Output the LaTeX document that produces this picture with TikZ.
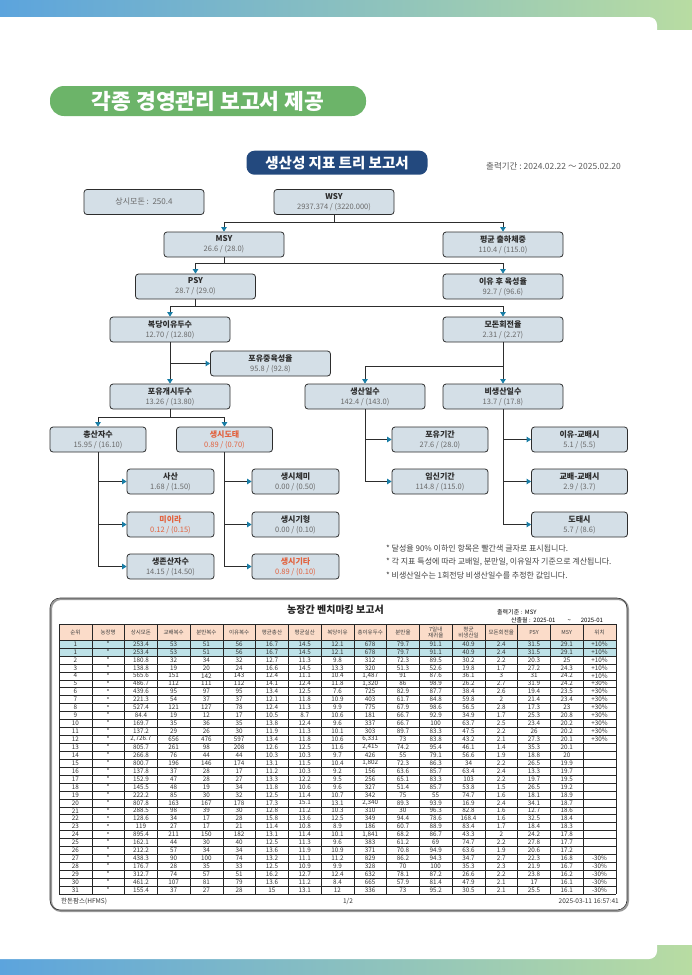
\documentclass[tikz,border=0pt]{standalone}
\usepackage{fontspec}
\setmainfont{Noto Sans CJK KR}
\usetikzlibrary{arrows.meta}

\definecolor{bandblue}{RGB}{92,164,221}
\definecolor{bandgreen}{RGB}{184,220,162}
\definecolor{pillgreen}{RGB}{108,180,105}
\definecolor{pillblue}{RGB}{35,73,126}
\definecolor{boxfill}{RGB}{212,223,231}
\definecolor{boxline}{RGB}{45,45,45}
\definecolor{tipblue}{RGB}{25,125,165}
\definecolor{valgray}{RGB}{105,105,105}
\definecolor{warnred}{RGB}{226,98,62}
\definecolor{headfill}{RGB}{251,220,201}
\definecolor{hilite}{RGB}{190,226,232}

\newcommand{\kname}[1]{{\bfseries #1}}
\newcommand{\kval}[1]{{\fontsize{7.5}{10}\selectfont\color{valgray}#1}}
\newcommand{\kvalr}[1]{{\fontsize{7.5}{10}\selectfont #1}}

\begin{document}
\begin{tikzpicture}[x=1pt, y=-1pt,
  kpi/.style={draw=boxline, line width=0.8pt, fill=boxfill, rounded corners=3pt,
    minimum width=120pt, minimum height=25pt, inner sep=1pt, align=center,
    font=\fontsize{8}{10}\selectfont, text=boxline},
  kpimid/.style={kpi, minimum width=96pt},
  kpismall/.style={kpi, minimum width=87pt},
  warn/.style={text=warnred},
  link/.style={draw=boxline, line width=0.8pt,
    -{Triangle[width=5.5pt,length=4.5pt,color=tipblue]}},
  tabline/.style={draw=black!85, line width=0.4pt},
  headtxt/.style={font=\fontsize{5.5}{6}\selectfont, text=black!75, align=center, inner sep=0pt},
  celltxt/.style={font=\fontsize{6.3}{7}\selectfont, text=black!80, inner sep=0pt}]
  \useasboundingbox (0,0) rectangle (692,975);

  % Page bands
  \shade[left color=bandblue, right color=bandgreen] (0,0) rectangle (692,29);
  \fill[white, rounded corners=8pt] (-20,17) rectangle (657,60);
  \shade[left color=bandblue, right color=bandgreen] (0,945) rectangle (692,975);
  \fill[white, rounded corners=8pt] (-20,915) rectangle (657,959);

  % Titles
  \node[fill=pillgreen, rounded corners=14pt, minimum width=316pt, minimum height=30pt,
    text=white, font=\fontsize{21.5}{24}\selectfont\bfseries] (ttl) at (208,101) {각종 경영관리 보고서 제공};
  \node[fill=pillblue, rounded corners=8pt, minimum width=181pt, minimum height=24pt,
    text=white, font=\fontsize{14.5}{16}\selectfont\bfseries] (rpt) at (337,162.7) {생산성 지표 트리 보고서};
  \node[anchor=west, inner sep=0pt, text=black!65, font=\fontsize{8.5}{10}\selectfont] (period)
    at (486,166) {출력기간 :\ 2024.02.22 ～ 2025.02.20};

  % Productivity tree
  \node[kpi, text=valgray] (sows) at (144,202) {상시모돈 :\ \ 250.4};
  \node[kpi] (wsy) at (334,202) {\kname{WSY}\\\kval{2937.374 / (3220.000)}};
  \node[kpi] (msy) at (224,244.5) {\kname{MSY}\\\kval{26.6 / (28.0)}};
  \node[kpi] (wt) at (503,244.5) {\kname{평균 출하체중}\\\kval{110.4 / (115.0)}};
  \node[kpi] (psy) at (195.5,286.5) {\kname{PSY}\\\kval{28.7 / (29.0)}};
  \node[kpi] (grow) at (503,286.5) {\kname{이유 후 육성율}\\\kval{92.7 / (96.6)}};
  \node[kpi] (wean) at (170,329.5) {\kname{복당이유두수}\\\kval{12.70 / (12.80)}};
  \node[kpi] (turn) at (503,329.5) {\kname{모돈회전율}\\\kval{2.31 / (2.27)}};
  \node[kpi] (survive) at (270.5,363.5) {\kname{포유중육성율}\\\kval{95.8 / (92.8)}};
  \node[kpi] (start) at (170,396.5) {\kname{포유개시두수}\\\kval{13.26 / (13.80)}};
  \node[kpi] (prod) at (365,396.5) {\kname{생산일수}\\\kval{142.4 / (143.0)}};
  \node[kpi] (nonprod) at (503,396.5) {\kname{비생산일수}\\\kval{13.7 / (17.8)}};
  \node[kpimid] (total) at (98,439.5) {\kname{총산자수}\\\kval{15.95 / (16.10)}};
  \node[kpimid, warn] (cull) at (224.5,439.5) {\kname{생시도태}\\\kvalr{0.89 / (0.70)}};
  \node[kpismall] (still) at (170.5,481.5) {\kname{사산}\\\kval{1.68 / (1.50)}};
  \node[kpismall, warn] (mummy) at (170.5,524.5) {\kname{미이라}\\\kvalr{0.12 / (0.15)}};
  \node[kpismall] (alive) at (170.5,566.5) {\kname{생존산자수}\\\kval{14.15 / (14.50)}};
  \node[kpismall] (weak) at (295.5,481.5) {\kname{생시체미}\\\kval{0.00 / (0.50)}};
  \node[kpismall] (deform) at (295.5,524.5) {\kname{생시기형}\\\kval{0.00 / (0.10)}};
  \node[kpismall, warn] (other) at (295.5,566.5) {\kname{생시기타}\\\kvalr{0.89 / (0.10)}};
  \node[kpimid] (lact) at (440,439.5) {\kname{포유기간}\\\kval{27.6 / (28.0)}};
  \node[kpimid] (gest) at (440,481.5) {\kname{임신기간}\\\kval{114.8 / (115.0)}};
  \node[kpimid] (wm) at (579.5,439.5) {\kname{이유-교배시}\\\kval{5.1 / (5.5)}};
  \node[kpimid] (mm) at (579.5,481.5) {\kname{교배-교배시}\\\kval{2.9 / (3.7)}};
  \node[kpimid] (cullday) at (579.5,524.5) {\kname{도태시}\\\kval{5.7 / (8.6)}};

  % Connectors
  \draw[link] (wsy.south) -- ++(0,7) -| (msy.north);
  \draw[link] (wsy.south) -- ++(0,7) -| (wt.north);
  \draw[link] (msy.south) -- ++(0,6) -| (psy.north);
  \draw[link] (msy.south) -- ++(0,6) -| (grow.north);
  \draw[link] (psy.south) -- ++(0,7) -| (wean.north);
  \draw[link] (psy.south) -- ++(0,7) -| (turn.north);
  \draw[link] (wean.south) -- (start.north);
  \draw[link] (wean.south |- survive.west) -- (survive.west);
  \draw[link] (turn.south) -- (nonprod.north);
  \draw[link] (turn.south) -- ++(0,23.5) -| (prod.north);
  \draw[link] (start.south) -- ++(0,8) -| (total.north);
  \draw[link] (start.south) -- ++(0,8) -| (cull.north);
  \foreach \k in {still,mummy,alive} \draw[link] (total.south) |- (\k.west);
  \foreach \k in {weak,deform,other} \draw[link] (cull.south) |- (\k.west);
  \foreach \k in {lact,gest} \draw[link] (prod.south) |- (\k.west);
  \foreach \k in {wm,mm,cullday} \draw[link] (nonprod.south) |- (\k.west);

  % Notes
  \foreach \t [count=\n] in {{* 달성율 90\% 이하인 항목은 빨간색 글자로 표시됩니다.},
      {* 각 지표 특성에 따라 교배일, 분만일, 이유일자 기준으로 계산됩니다.},
      {* 비생산일수는 1회전당 비생산일수를 추정한 값입니다.}}
    \node[anchor=west, inner sep=0pt, text=black!75, font=\fontsize{8}{10}\selectfont]
      (note\n) at (386,534.5+\n*13.5) {\t};

  % Benchmark table
  \draw[black!40, line width=2pt, rounded corners=10pt] (51,599) rectangle (628,911);
  \draw[black!80, line width=0.6pt, rounded corners=10pt] (50,598) rectangle (627,910);
  \node[font=\fontsize{10}{12}\selectfont\bfseries, text=black!85] (bench) at (335.5,610) {농장간 벤치마킹 보고서};
  \node[anchor=west, inner sep=0pt, font=\fontsize{6}{7}\selectfont] (crit) at (497,612) {출력기준 :\ \ MSY};
  \node[anchor=west, inner sep=0pt, font=\fontsize{6}{7}\selectfont] (month) at (511,620)
    {산출월 :\ \ 2025-01\hspace{12pt}\textasciitilde\hspace{10pt}2025-01};

  \fill[headfill] (59,624) rectangle (616,640);
  \fill[hilite] (59,640) rectangle (616,655.88);
  \foreach \i in {0,...,17} \draw[tabline] (59+\i*32.76,624) -- (59+\i*32.76,894.1);
  \draw[tabline] (59,624) -- (616,624);
  \foreach \r in {0,...,32} \draw[tabline] (59,640+\r*7.94) -- (616,640+\r*7.94);

  \foreach \h [count=\c] in {순위,농장명,상시모돈,교배복수,분만복수,이유복수,평균총산,평균실산,
      복당이유,총이유두수,분만율,{7일내\\재귀율},{평균\\비생산일},모돈회전율,PSY,MSY,위치}
    \node[headtxt] (h\c) at (59+\c*32.76-16.38,632) {\h};

  \foreach \row [count=\r] in {
    {1,*,253.4,53,51,56,16.7,14.5,12.1,678,79.7,91.1,40.9,2.4,31.5,29.1,+10\%},
    {1,*,253.4,53,51,56,16.7,14.5,12.1,678,79.7,91.1,40.9,2.4,31.5,29.1,+10\%},
    {2,*,180.8,32,34,32,12.7,11.3,9.8,312,72.3,89.5,30.2,2.2,20.3,25,+10\%},
    {3,*,138.8,19,20,24,16.6,14.5,13.3,320,51.3,52.6,19.8,1.7,27.2,24.3,+10\%},
    {4,*,565.6,151,142,143,12.4,11.1,10.4,{1,487},91,87.6,36.1,3,31,24.2,+10\%},
    {5,*,486.7,112,111,112,14.1,12.4,11.8,{1,320},86,98.9,26.2,2.7,31.9,24.2,+30\%},
    {6,*,439.6,95,97,95,13.4,12.5,7.6,725,82.9,87.7,38.4,2.6,19.4,23.5,+30\%},
    {7,*,221.3,54,37,37,12.1,11.8,10.9,403,61.7,84.8,59.8,2,21.4,23.4,+30\%},
    {8,*,527.4,121,127,78,12.4,11.3,9.9,775,67.9,98.6,56.5,2.8,17.3,23,+30\%},
    {9,*,84.4,19,12,17,10.5,8.7,10.6,181,66.7,92.9,34.9,1.7,25.3,20.8,+30\%},
    {10,*,169.7,35,36,35,13.8,12.4,9.6,337,66.7,100,63.7,2.5,23.4,20.2,+30\%},
    {11,*,137.2,29,26,30,11.9,11.3,10.1,303,89.7,83.3,47.5,2.2,26,20.2,+30\%},
    {12,*,{2,726.7},656,476,597,13.4,11.8,10.6,{6,331},73,83.8,43.2,2.1,27.3,20.1,+30\%},
    {13,*,805.7,261,98,208,12.6,12.5,11.6,{2,415},74.2,95.4,46.1,1.4,35.3,20.1},
    {14,*,266.8,76,44,44,10.3,10.3,9.7,426,55,79.1,56.6,1.9,18.8,20},
    {15,*,800.7,196,146,174,13.1,11.5,10.4,{1,802},72.3,86.3,34,2.2,26.5,19.9},
    {16,*,137.8,37,28,17,11.2,10.3,9.2,156,63.6,85.7,63.4,2.4,13.3,19.7},
    {17,*,152.9,47,28,27,13.3,12.2,9.5,256,65.1,83.3,103,2.2,19.7,19.5},
    {18,*,145.5,48,19,34,11.8,10.6,9.6,327,51.4,85.7,53.8,1.5,26.5,19.2},
    {19,*,222.2,85,30,32,12.5,11.4,10.7,342,75,55,74.7,1.6,18.1,18.9},
    {20,*,807.8,163,167,178,17.3,15.1,13.1,{2,340},89.3,93.9,16.9,2.4,34.1,18.7},
    {21,*,288.5,98,39,30,12.8,11.2,10.3,310,30,96.3,82.8,1.6,12.7,18.6},
    {22,*,128.6,34,17,28,15.8,13.6,12.5,349,94.4,78.6,168.4,1.6,32.5,18.4},
    {23,*,119,27,17,21,11.4,10.8,8.9,186,60.7,88.9,83.4,1.7,18.4,18.3},
    {24,*,895.4,211,150,182,13.1,11.4,10.1,{1,841},68.2,86.7,43.3,2,24.2,17.8},
    {25,*,162.1,44,30,40,12.5,11.3,9.6,383,61.2,69,74.7,2.2,27.8,17.7},
    {26,*,212.2,57,34,34,13.6,11.9,10.9,371,70.8,94.9,63.6,1.9,20.6,17.2},
    {27,*,438.3,90,100,74,13.2,11.1,11.2,829,86.2,94.3,34.7,2.7,22.3,16.8,-30\%},
    {28,*,176.7,28,35,33,12.5,10.9,9.9,328,70,100,35.3,2.3,21.9,16.7,-30\%},
    {29,*,312.7,74,57,51,16.2,12.7,12.4,632,78.1,87.2,26.6,2.2,23.8,16.2,-30\%},
    {30,*,461.2,107,81,79,13.6,11.2,8.4,665,57.9,81.4,47.9,2.1,17,16.1,-30\%},
    {31,*,155.4,37,27,28,15,13.1,12,336,73,95.2,30.5,2.1,25.5,16.1,-30\%}}
    \foreach \v [count=\c] in \row
      \node[celltxt] (c\r-\c) at (59+\c*32.76-16.38,640+\r*7.94-3.97) {\v};

  % Table footer
  \node[anchor=west, inner sep=0pt, font=\fontsize{6.5}{7}\selectfont, text=black!80] (foot1) at (61,901) {한돈팜스(HFMS)};
  \node[inner sep=0pt, font=\fontsize{6.5}{7}\selectfont, text=black!80] (foot2) at (348,901) {1/2};
  \node[anchor=east, inner sep=0pt, font=\fontsize{6.5}{7}\selectfont, text=black!80] (foot3) at (619,901) {2025-03-11 16:57:41};
\end{tikzpicture}
\end{document}
